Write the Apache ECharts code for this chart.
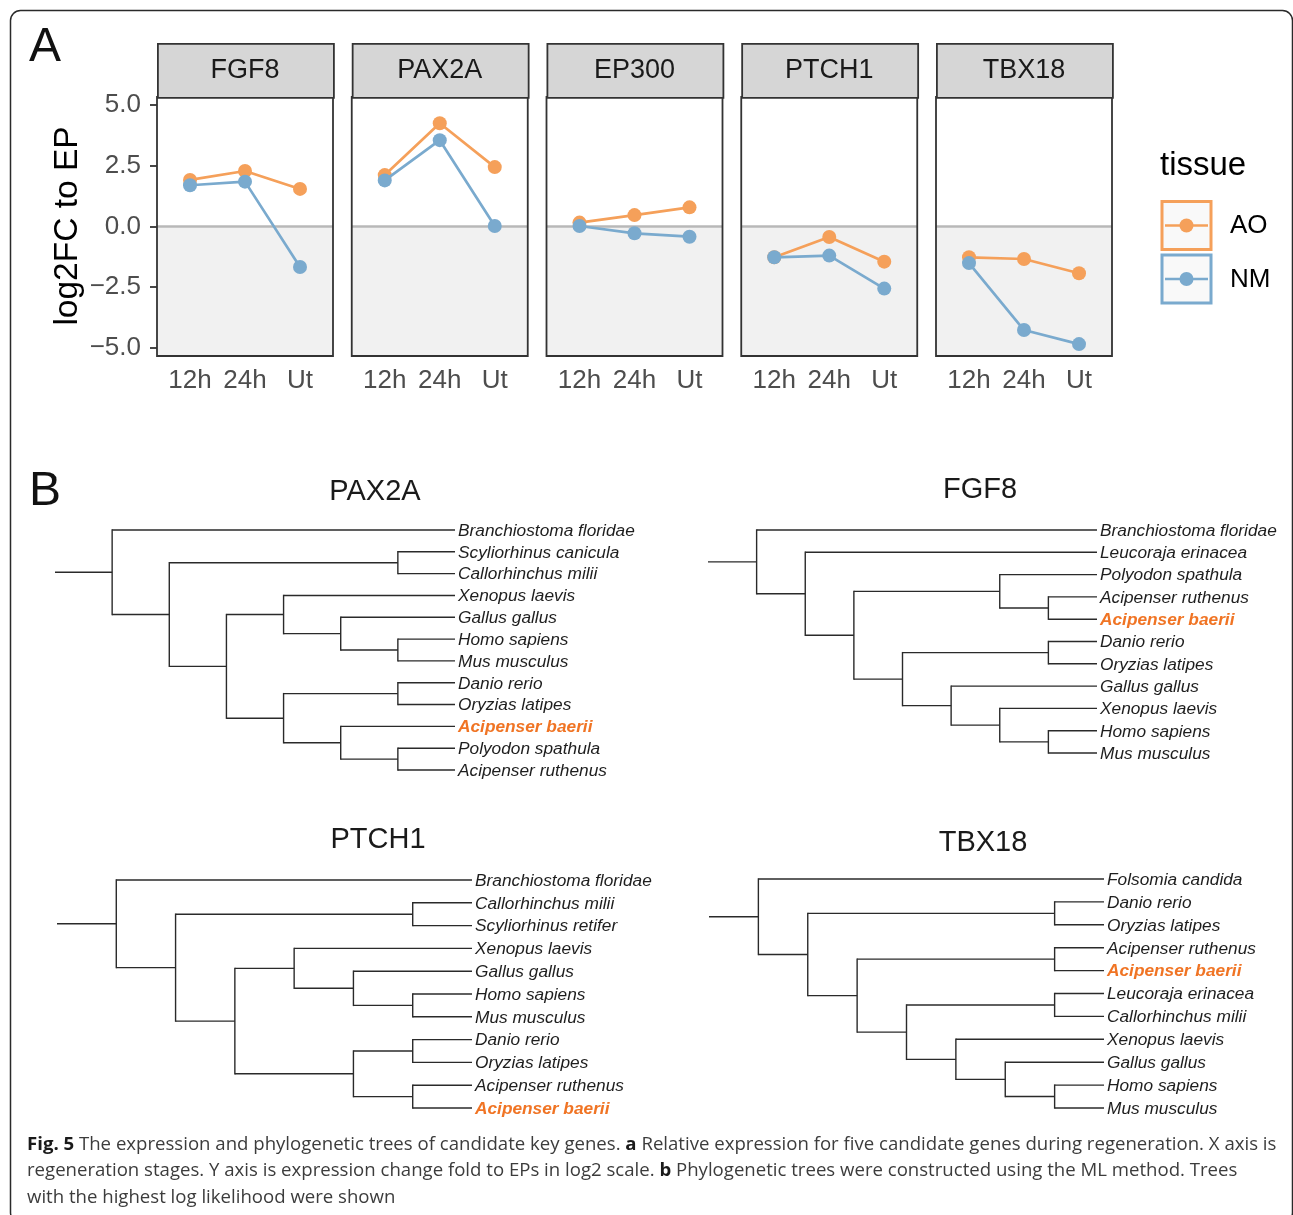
<!DOCTYPE html>
<html>
<head>
<meta charset="utf-8">
<script src="https://cdn.jsdelivr.net/npm/echarts@6/dist/echarts.min.js"></script>
<style>
html,body{margin:0;padding:0;background:#fff;}
#main{width:1293px;height:1215px;}
</style>
</head>
<body>
<div id="main"></div>
<script>
// ---------- Panel A data ----------
const stages = ['12h', '24h', 'Ut'];
const genesA = ['FGF8', 'PAX2A', 'EP300', 'PTCH1', 'TBX18'];
const tissues = ['AO', 'NM'];
const aoValues = [
  [1.92, 2.29, 1.55],
  [2.12, 4.26, 2.45],
  [0.16, 0.47, 0.79],
  [-1.27, -0.43, -1.45],
  [-1.27, -1.34, -1.93]
];
const nmValues = [
  [1.70, 1.85, -1.67],
  [1.90, 3.56, 0.02],
  [0.02, -0.28, -0.42],
  [-1.27, -1.20, -2.56],
  [-1.51, -4.27, -4.85]
];
const yTickValues = [-5, -2.5, 0, 2.5, 5];
const yTickLabels = ['\u22125.0', '\u22122.5', '0.0', '2.5', '5.0'];
const yTitle = 'log2FC to EP';
const legendTitle = 'tissue';

// ---------- Panel B data (tree topologies) ----------
const treeTitles = ['PAX2A', 'FGF8', 'PTCH1', 'TBX18'];
const treePAX2A = ['Branchiostoma floridae', [['Scyliorhinus canicula', 'Callorhinchus milii'], [['Xenopus laevis', ['Gallus gallus', ['Homo sapiens', 'Mus musculus']]], [['Danio rerio', 'Oryzias latipes'], ['Acipenser baerii', ['Polyodon spathula', 'Acipenser ruthenus']]]]]];
const treeFGF8 = ['Branchiostoma floridae', ['Leucoraja erinacea', [['Polyodon spathula', ['Acipenser ruthenus', 'Acipenser baerii']], [['Danio rerio', 'Oryzias latipes'], ['Gallus gallus', ['Xenopus laevis', ['Homo sapiens', 'Mus musculus']]]]]]];
const treePTCH1 = ['Branchiostoma floridae', [['Callorhinchus milii', 'Scyliorhinus retifer'], [['Xenopus laevis', ['Gallus gallus', ['Homo sapiens', 'Mus musculus']]], [['Danio rerio', 'Oryzias latipes'], ['Acipenser ruthenus', 'Acipenser baerii']]]]];
const treeTBX18 = ['Folsomia candida', [['Danio rerio', 'Oryzias latipes'], [['Acipenser ruthenus', 'Acipenser baerii'], [['Leucoraja erinacea', 'Callorhinchus milii'], ['Xenopus laevis', ['Gallus gallus', ['Homo sapiens', 'Mus musculus']]]]]]];
const highlightLeaf = 'Acipenser baerii';

const captionLines = [
  '{b|Fig. 5} The expression and phylogenetic trees of candidate key genes. {b|a} Relative expression for five candidate genes during regeneration. X axis is',
  'regeneration stages. Y axis is expression change fold to EPs in log2 scale. {b|b} Phylogenetic trees were constructed using the ML method. Trees',
  'with the highest log likelihood were shown'
];

// ---------- styling ----------
const AO_COLOR = '#f5a05a';
const NM_COLOR = '#7aaace';
const FONT = "'Liberation Sans', Arial, sans-serif";
const CAP_FONT = "'Open Sans', 'Noto Sans', sans-serif";
const DARK = '#333333';

const chart = echarts.init(document.getElementById('main'), null, {renderer: 'canvas'});

const grids = [], xAxes = [], yAxes = [], series = [], graphics = [];

// ----- Panel A facets -----
const panelLeft0 = 157, panelStep = 194.75, panelTop = 97, panelW = 176, panelH = 259;
const yMin = -5.34, yMax = 5.34;
genesA.forEach((g, i) => {
  const left = panelLeft0 + i * panelStep;
  grids.push({left: left, top: panelTop, width: panelW, height: panelH, containLabel: false});
  xAxes.push({
    type: 'value', gridIndex: i, min: 0.4, max: 3.6,
    splitLine: {show: false}, axisLine: {show: false},
    axisTick: {show: true, customValues: [1, 2, 3], length: 7, lineStyle: {color: DARK, width: 1.8}},
    axisLabel: {show: true, customValues: [1, 2, 3], formatter: v => stages[Math.round(v) - 1],
      fontSize: 26, color: '#4d4d4d', fontFamily: FONT, margin: 12}
  });
  yAxes.push({
    type: 'value', gridIndex: i, min: yMin, max: yMax,
    splitLine: {show: false}, axisLine: {show: false},
    axisTick: {show: i === 0, customValues: yTickValues, length: 7, lineStyle: {color: DARK, width: 1.8}},
    axisLabel: {show: i === 0, customValues: yTickValues,
      formatter: v => yTickLabels[yTickValues.indexOf(v)] || '',
      fontSize: 26, color: '#4d4d4d', fontFamily: FONT, margin: 16}
  });
  // background: shaded negative half, zero line, panel border
  series.push({
    type: 'custom', xAxisIndex: i, yAxisIndex: i, z: 1, silent: true,
    data: [[0, 0]],
    renderItem: (params, api) => {
      const cs = params.coordSys;
      const y0 = api.coord([1, 0])[1];
      return {type: 'group', children: [
        {type: 'rect', shape: {x: cs.x, y: y0, width: cs.width, height: cs.y + cs.height - y0}, style: {fill: '#f1f1f1'}},
        {type: 'line', shape: {x1: cs.x, y1: y0, x2: cs.x + cs.width, y2: y0}, style: {stroke: '#b8b8b8', lineWidth: 2.6}},
        {type: 'rect', shape: {x: cs.x, y: cs.y, width: cs.width, height: cs.height}, style: {fill: null, stroke: DARK, lineWidth: 1.8}}
      ]};
    }
  });
  [[aoValues, AO_COLOR, 'AO'], [nmValues, NM_COLOR, 'NM']].forEach(([vals, col, nm], k) => {
    series.push({
      type: 'line', name: nm, xAxisIndex: i, yAxisIndex: i, z: 3 + k,
      data: stages.map((s, j) => [j + 1, vals[i][j]]),
      symbol: 'circle', symbolSize: 14, showSymbol: true,
      lineStyle: {color: col, width: 2.7}, itemStyle: {color: col},
      emphasis: {disabled: true}, animation: false
    });
  });
  // strip
  graphics.push({type: 'rect', left: left, top: 43, shape: {width: panelW, height: 54},
    style: {fill: '#d6d6d6', stroke: DARK, lineWidth: 1.8}, z: 5});
  graphics.push({type: 'text', x: left + panelW / 2, y: 71,
    style: {text: g, fontSize: 27, fontFamily: FONT, fill: '#1a1a1a', align: 'center', verticalAlign: 'middle'}, z: 6});
});

// y title
graphics.push({type: 'text', x: 68, y: 226, rotation: Math.PI / 2,
  style: {text: yTitle, fontSize: 33.5, fontFamily: FONT, fill: '#000', align: 'center', verticalAlign: 'middle'}});
// panel letters
graphics.push({type: 'text', x: 29, y: 48, style: {text: 'A', fontSize: 48, fontFamily: FONT, fill: '#111', align: 'left', verticalAlign: 'middle'}});
graphics.push({type: 'text', x: 29, y: 492, style: {text: 'B', fontSize: 48, fontFamily: FONT, fill: '#111', align: 'left', verticalAlign: 'middle'}});

// legend
graphics.push({type: 'text', x: 1160, y: 166, style: {text: legendTitle, fontSize: 33, fontFamily: FONT, fill: '#000', align: 'left', verticalAlign: 'middle'}});
[[AO_COLOR, 200], [NM_COLOR, 253.5]].forEach(([col, top], k) => {
  graphics.push({type: 'rect', shape: {x: 1162, y: top + 1.5, width: 49, height: 48}, style: {fill: '#f9f9f9', stroke: col, lineWidth: 3}});
  graphics.push({type: 'line', shape: {x1: 1165, y1: top + 25.5, x2: 1208, y2: top + 25.5}, style: {stroke: col, lineWidth: 2.6}});
  graphics.push({type: 'circle', shape: {cx: 1186.5, cy: top + 25.5, r: 7}, style: {fill: col}});
  graphics.push({type: 'text', x: 1230, y: top + 26, style: {text: tissues[k], fontSize: 26, fontFamily: FONT, fill: '#000', align: 'left', verticalAlign: 'middle'}});
});

// ----- Panel B trees -----
function layoutTree(tree) {
  const nodes = [], leaves = [];
  const height = n => Array.isArray(n) ? 1 + Math.max(...n.map(height)) : 0;
  const H = height(tree);
  function walk(n, parentX) {
    const x = H - height(n) + 1;
    if (!Array.isArray(n)) {
      const y = leaves.length;
      leaves.push(n);
      nodes.push([x, y, parentX, y, y, y]);
      return y;
    }
    const ys = n.map(c => walk(c, x));
    const y = ys.reduce((a, b) => a + b, 0) / ys.length;
    nodes.push([x, y, parentX, ys[0], ys[ys.length - 1], -1]);
    return y;
  }
  walk(tree, 0);
  return {nodes, leaves, maxX: H + 1};
}

const trees = [treePAX2A, treeFGF8, treePTCH1, treeTBX18];
const treeBoxes = [
  {left: 55, right: 455, top: 530, bottom: 770, tx: 375, ty: 492},
  {left: 708, right: 1097, top: 530, bottom: 753, tx: 980, ty: 490},
  {left: 57, right: 472, top: 880, bottom: 1108, tx: 378, ty: 840},
  {left: 709, right: 1104, top: 879, bottom: 1108, tx: 983, ty: 843}
];
trees.forEach((t, k) => {
  const L = layoutTree(t);
  const b = treeBoxes[k];
  const gi = grids.length;
  grids.push({left: b.left, top: b.top, width: b.right - b.left, height: b.bottom - b.top, containLabel: false});
  xAxes.push({type: 'value', gridIndex: gi, min: 0, max: L.maxX, show: false, splitLine: {show: false}});
  yAxes.push({type: 'value', gridIndex: gi, min: 0, max: L.leaves.length - 1, inverse: true, show: false, splitLine: {show: false}});
  series.push({
    type: 'custom', xAxisIndex: gi, yAxisIndex: gi, silent: true, clip: false,
    data: L.nodes,
    renderItem: (params, api) => {
      const x = api.value(0), y = api.value(1), px = api.value(2), y1 = api.value(3), y2 = api.value(4), li = api.value(5);
      const p = api.coord([x, y]), pp = api.coord([px, y]);
      const lw = 1.4, st = '#2a2a2a';
      const ch = [{type: 'line', shape: {x1: pp[0], y1: p[1], x2: p[0], y2: p[1]}, style: {stroke: st, lineWidth: lw}}];
      if (li < 0) {
        const a = api.coord([x, y1]), c = api.coord([x, y2]);
        ch.push({type: 'line', shape: {x1: p[0], y1: a[1] - lw / 2, x2: p[0], y2: c[1] + lw / 2}, style: {stroke: st, lineWidth: lw}});
      } else {
        const name = L.leaves[li];
        const hi = name === highlightLeaf;
        ch.push({type: 'text', x: p[0] + 3, y: p[1] + 1, style: {
          text: name, fontSize: 17.3, fontStyle: 'italic', fontWeight: hi ? 'bold' : 'normal',
          fontFamily: FONT, fill: hi ? '#f07424' : '#1e1e1e', align: 'left', verticalAlign: 'middle'}});
      }
      return {type: 'group', children: ch};
    }
  });
  graphics.push({type: 'text', x: b.tx, y: b.ty, style: {text: treeTitles[k], fontSize: 29, fontFamily: FONT, fill: '#1a1a1a', align: 'center', verticalAlign: 'middle'}});
});

// caption
graphics.push({type: 'text', x: 27, y: 1131, style: {
  text: captionLines.join('\n'), fontSize: 18.6, lineHeight: 26.5, fontFamily: CAP_FONT,
  fill: '#3c3c3c', align: 'left', verticalAlign: 'top',
  rich: {b: {fontWeight: 'bold', fontSize: 18.6, lineHeight: 26.5, fontFamily: CAP_FONT, fill: '#1a1a1a'}}
}});
// frame
graphics.push({type: 'rect', shape: {x: 10.5, y: 10.5, width: 1282, height: 1212, r: 10}, style: {fill: null, stroke: '#2a2a2a', lineWidth: 1.5}, z: 10});

chart.setOption({
  animation: false,
  backgroundColor: '#fff',
  textStyle: {fontFamily: FONT},
  grid: grids, xAxis: xAxes, yAxis: yAxes, series: series,
  graphic: {elements: graphics}
});
</script>
</body>
</html>
